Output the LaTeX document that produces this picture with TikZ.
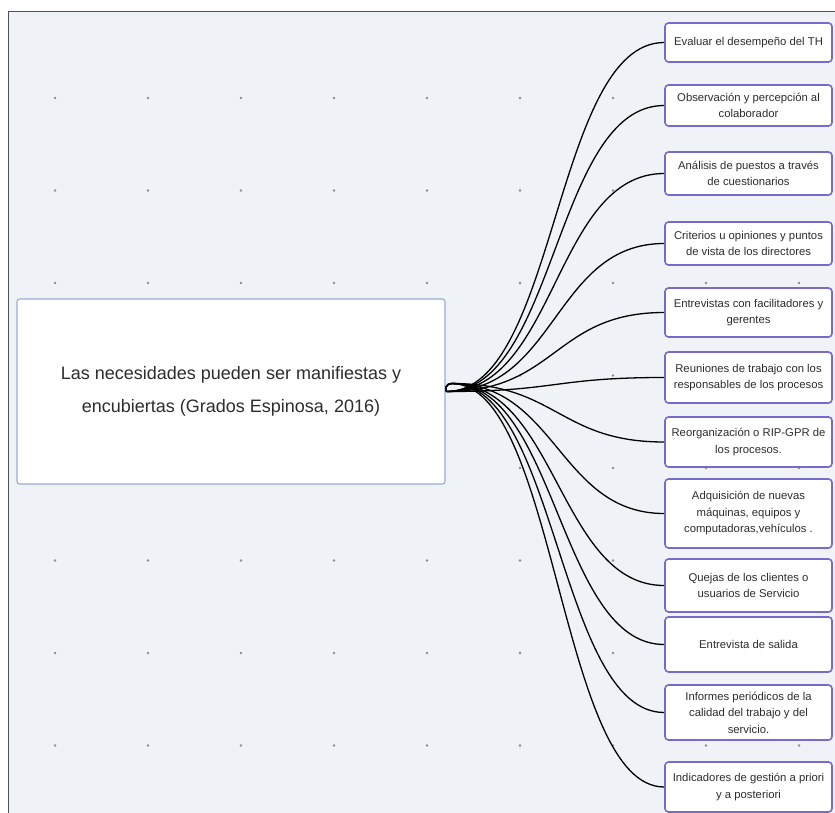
\documentclass[tikz,border=0pt]{standalone}
\usepackage{fontspec}
\setmainfont{Liberation Sans}
\usetikzlibrary{calc}
\definecolor{canvas}{RGB}{239,242,246}
\definecolor{framegray}{RGB}{80,80,80}
\definecolor{dotgray}{RGB}{140,140,150}
\definecolor{rootedge}{RGB}{150,175,215}
\definecolor{leafedge}{RGB}{118,106,205}
\definecolor{ink}{RGB}{45,45,45}

\begin{document}
\begin{tikzpicture}[x=1pt,y=-1pt,
  rootbox/.style={draw=rootedge, line width=1.1pt, fill=white, rounded corners=2.5pt,
    minimum width=428pt, minimum height=185pt, align=center, text=ink,
    font=\fontsize{18}{33}\selectfont, inner sep=0pt},
  leaf/.style={draw=leafedge, line width=1.6pt, fill=white, rounded corners=3.5pt,
    minimum width=167pt, align=center, text=ink,
    font=\fontsize{11.3}{16.5}\selectfont, inner sep=0pt},
  link/.style={line width=1.3pt, black},
  griddot/.style={fill=dotgray}
]
\useasboundingbox (0,0) rectangle (835,813);
\fill[white] (0,0) rectangle (835,813);
\fill[canvas] (8,11) rectangle (835,813);

% dotted canvas grid
\foreach \x in {55,148,241,334,427,520,613,706,799}
  \foreach \y in {98,190.5,283,375.5,468,560.5,653,745.5}
    \fill[griddot] (\x,\y) circle (1.3pt);

% page frame
\draw[framegray, line width=1.5pt] (8.5,813) -- (8.5,11.5) -- (835,11.5);

% central topic
\node[rootbox] (root) at (231,391.5)
  {Las necesidades pueden ser manifiestas y\\encubiertas (Grados Espinosa, 2016)};

% branch topics
\node[leaf, minimum height=39pt] (b1) at (748.5,42.5) {Evaluar el desempeño del TH};
\node[leaf, minimum height=41pt] (b2) at (748.5,105.5) {Observación y percepción al\\colaborador};
\node[leaf, minimum height=43pt] (b3) at (748.5,173.5) {Análisis de puestos a través\\de cuestionarios};
\node[leaf, minimum height=43pt] (b4) at (748.5,243.5) {Criterios u opiniones y puntos\\de vista de los directores};
\node[leaf, minimum height=49pt] (b5) at (748.5,312.5) {Entrevistas con facilitadores y\\gerentes};
\node[leaf, minimum height=51pt] (b6) at (748.5,377.5) {Reuniones de trabajo con los\\responsables de los procesos};
\node[leaf, minimum height=50pt] (b7) at (748.5,442) {Reorganización o RIP-GPR de\\los procesos.};
\node[leaf, minimum height=69pt] (b8) at (748.5,513.5) {Adquisición de nuevas\\máquinas, equipos y\\computadoras,vehículos .};
\node[leaf, minimum height=53pt] (b9) at (748.5,585.5) {Quejas de los clientes o\\usuarios de Servicio};
\node[leaf, minimum height=55pt] (b10) at (748.5,644.5) {Entrevista de salida};
\node[leaf, minimum height=55pt] (b11) at (748.5,712.5) {Informes periódicos de la\\calidad del trabajo y del\\servicio.};
\node[leaf, minimum height=50pt] (b12) at (748.5,787) {Indicadores de gestión a priori\\y a posteriori};

% connectors
\coordinate (hub) at ([xshift=1pt]root.east);
\coordinate (hublow) at ([shift={(5pt,8pt)}]hub);
\foreach \i in {1,...,6}
  \draw[link] (hub) .. controls ([xshift=110pt]hub) and ([xshift=-110pt]b\i.west) .. (b\i.west);
\foreach \i in {7,...,12}
  \draw[link] (hub) .. controls ([shift={(-1.5pt,1pt)}]hub) and ([shift={(-1.5pt,8pt)}]hub) .. (hublow)
    .. controls ([xshift=105pt]hublow) and ([xshift=-105pt]b\i.west) .. (b\i.west);
\end{tikzpicture}
\end{document}
